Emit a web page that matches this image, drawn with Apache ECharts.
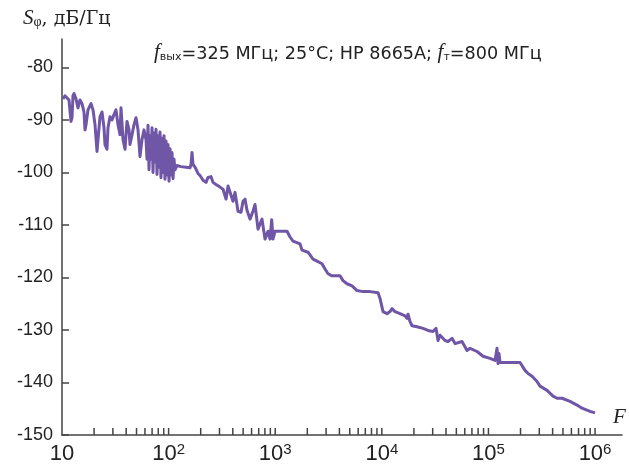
<!DOCTYPE html>
<html>
<head>
<meta charset="utf-8">
<script src="https://cdn.jsdelivr.net/npm/echarts@6/dist/echarts.min.js"></script>
<style>html,body{margin:0;padding:0;background:#fff;}#c{width:629px;height:465px;}</style>
</head>
<body>
<div id="c"></div>
<script>
// Frequency offset F, Hz
const freqHz = [
10.2,10.67,11.14,11.63,12.14,12.41,12.68,12.96,13.53,14.13,14.75,15.40,16.08,16.44,16.80,17.54,18.71,19.54,
20.4,21.3,21.76,22.73,23.73,24.78,25.32,26.43,27.01,28.2,29.44,30.74,32.1,33.52,35.0,35.77,36.55,37.35,39.0,
39.85,40.72,42.52,43.45,45.37,47.37,49.46,51.64,53.92,56.3,58.78,61.38,62.72,
64.1,65.48,66.91,68.38,69.87,71.4,72.95,74.55,76.18,77.84,79.54,81.3,83.05,84.8,86.71,88.61,90.55,92.52,
94.54,96.61,98.72,100.9,103.1,105.3,107.6,110.0,112.4,114.8,
119.9,130.7,145.6,158.8,162.3,165.8,169.4,176.9,188.7,197.0,210.3,
224.4,234.3,249.9,260.9,278.4,303.6,323.9,345.6,360.8,376.7,401.9,419.6,447.7,477.8,498.9,520.9,543.8,580.2,
619.0,646.3,689.6,751.9,802.3,856,894,927,953,995.7,1109,1291,1377,1469,1709,1784,2031,2263,2467,2748,2933,
3129,3411,4055,4325,4716,5254,5854,6663,7752,9213,9619,10262,11190,11937,12466,13300,14817,16508,17236,17600,
18390,19202,21393,24355,27131,30226,32247,33672,35156,39164,41781,45548,48606,56530,62982,67197,78185,88990,
103514,115300,120400,123040,125700,128500,134150,159500,197900,206600,220400,235300,256500,285800,304900,
354500,403600,440000,490200,582900,678000,755100,897700,1000000
];
// Phase noise S_phi, dB/Hz
const sPhi = [
-86.0,-85.4,-85.2,-86.2,-90.3,-89.6,-85.4,-85.0,-86.0,-87.7,-86.2,-86.9,-88.5,-91.9,-90.9,-88.1,-86.9,-88.1,
-90.9,-96.0,-93.8,-89.4,-88.5,-91.5,-94.7,-95.6,-91.5,-89.4,-90.0,-89.0,-88.1,-90.9,-92.8,-87.7,-87.5,-93.75,-95.6,
-92.8,-90.3,-91.9,-94.7,-92.8,-90.9,-89.6,-91.9,-97.0,-93.75,-91.9,-93.75,-97.5,
-91.0,-99.5,-93.0,-97.5,-91.5,-100.0,-92.5,-98.0,-91.8,-100.4,-93.0,-99.0,-92.3,-101.0,-93.5,-100.0,-93.0,-101.3,
-94.0,-100.5,-94.7,-101.7,-95.5,-100.5,-96.2,-101.2,-97.5,-99.5,
-98.7,-98.9,-99.0,-99.1,-98.5,-96.2,-98.5,-99.0,-100.2,-100.6,-101.5,
-101.9,-100.95,-100.8,-101.9,-102.3,-102.8,-103.2,-105.1,-102.6,-102.3,-105.5,-103.8,-107.4,-107.6,-105.5,-105.1,-107.2,-108.9,
-107.4,-106.1,-110.8,-108.9,-112.7,-111.2,-112.7,-109.0,-112.7,-111.2,-111.2,-111.2,-112.3,-113.1,-113.6,-114.8,-115.2,-116.5,-116.9,-117.4,-118.4,
-119.3,-119.7,-119.7,-120.6,-121.2,-121.6,-122.5,-122.7,-122.7,-122.9,-124.0,-126.5,-126.9,-126.5,-125.95,-126.5,-126.9,-127.3,-127.8,-127.0,
-128.4,-129.2,-129.4,-129.7,-130.1,-130.3,-129.7,-132.0,-131.0,-132.0,-132.2,-131.6,-132.6,-132.2,-133.9,-133.5,-134.1,-135.0,
-135.4,-135.8,-133.5,-136.4,-134.5,-136.2,-136.0,-136.2,-136.2,-136.4,-137.7,-138.3,-138.8,-139.8,-140.7,
-141.5,-142.6,-143.0,-143.0,-143.6,-144.3,-144.9,-145.5,-145.8
];
const yTicks = [-150, -140, -130, -120, -110, -100, -90, -80];
const xDecades = [10, 100, 1000, 10000, 100000];
const xMin = 10, xMax = 1.79e6, yMin = -150, yMax = -74.6;

const lineData = freqHz.map((f, i) => [f, sPhi[i]]);
const tickData = [];
xDecades.forEach(d => { for (let k = 2; k <= 10; k++) tickData.push([k * d, yMin]); });

const sans = 'Liberation Sans';
const serif = 'Liberation Serif';
const txt = '#222';
const purple = '#6f56a6';

const chart = echarts.init(document.getElementById('c'), null, {renderer: 'canvas'});
chart.setOption({
  animation: false,
  backgroundColor: '#fff',
  grid: {left: 62, right: 7, top: 39, bottom: 28, containLabel: false},
  xAxis: {
    type: 'log', logBase: 10, min: xMin, max: xMax,
    axisLine: {onZero: false, lineStyle: {color: '#444', width: 1.5}},
    axisTick: {show: false},
    splitLine: {show: false},
    axisLabel: {
      showMaxLabel: false, showMinLabel: true, margin: 7, color: txt,
      formatter: function (v) {
        const e = Math.log10(v), r = Math.round(e);
        if (Math.abs(e - r) > 0.01) return '';
        if (r === 1) return '{b|10}';
        return '{b|10}{s|' + r + '}';
      },
      rich: {
        b: {fontFamily: sans, fontSize: 22, color: txt, lineHeight: 24},
        s: {fontFamily: sans, fontSize: 15, color: txt, verticalAlign: 'top', lineHeight: 15}
      }
    }
  },
  yAxis: {
    type: 'value', min: yMin, max: yMax, interval: 10,
    axisLine: {show: true, onZero: false, lineStyle: {color: '#444', width: 1.5}},
    axisTick: {show: true, inside: true, length: 7, customValues: yTicks, lineStyle: {color: '#444', width: 1.5}},
    axisLabel: {customValues: yTicks, fontFamily: sans, fontSize: 18, color: txt, margin: 9},
    splitLine: {show: false}
  },
  series: [
    {
      type: 'line', data: lineData, showSymbol: false, symbol: 'none',
      lineStyle: {color: purple, width: 3, join: 'round'}, clip: false, z: 3
    },
    {
      type: 'custom', data: tickData, silent: true, clip: false, z: 4,
      encode: {x: 0, y: 1},
      renderItem: function (params, api) {
        const p = api.coord([api.value(0), api.value(1)]);
        return {type: 'line', shape: {x1: p[0], y1: p[1], x2: p[0], y2: p[1] - 7},
                style: {stroke: '#444', lineWidth: 1.5}};
      }
    }
  ],
  graphic: [
    {
      type: 'text', left: 23, top: 8,
      style: {
        text: '{si|S}{sub|φ}{t|, дБ/Гц}',
        rich: {
          si: {fontFamily: serif, fontStyle: 'italic', fontSize: 21, fill: txt, lineHeight: 24, verticalAlign: 'bottom'},
          sub: {fontFamily: serif, fontSize: 14, fill: txt, lineHeight: 24, verticalAlign: 'bottom'},
          t: {fontFamily: 'DejaVu Serif', fontSize: 19, fill: txt, lineHeight: 24, verticalAlign: 'bottom'}
        }
      }
    },
    {
      type: 'text', left: 154, top: 42,
      style: {
        text: '{fi|f}{sub|вых}{t|=325 МГц; 25°C; HP 8665A; }{fi|f}{sub|т}{t|=800 МГц}',
        rich: {
          fi: {fontFamily: serif, fontStyle: 'italic', fontSize: 21, fill: txt, lineHeight: 24, verticalAlign: 'bottom'},
          sub: {fontFamily: 'DejaVu Sans', fontSize: 11, fill: txt, lineHeight: 22, verticalAlign: 'bottom'},
          t: {fontFamily: 'DejaVu Sans', fontSize: 17.6, fill: txt, lineHeight: 24, verticalAlign: 'bottom'}
        }
      }
    },
    {
      type: 'text', left: 613, top: 407,
      style: {text: 'F', font: 'italic 21px "Liberation Serif"', fill: txt}
    }
  ]
});
</script>
</body>
</html>
